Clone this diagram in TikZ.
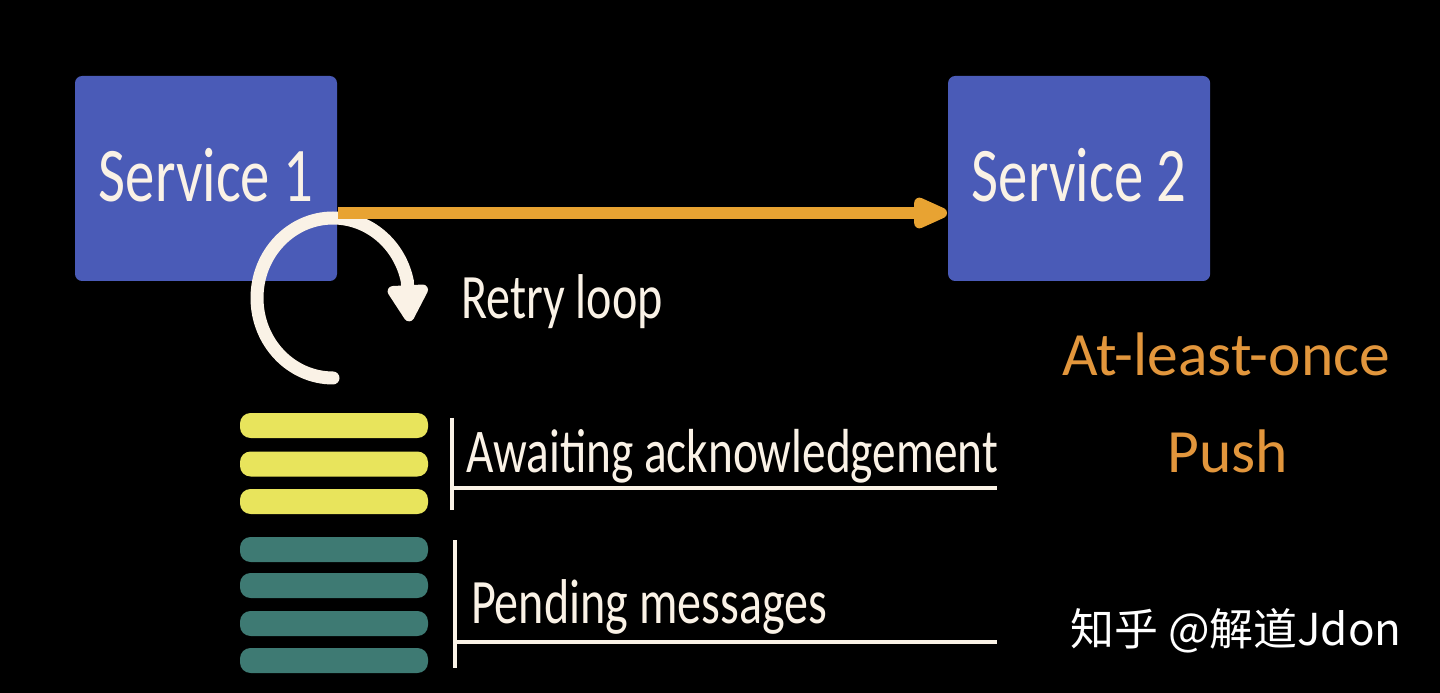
\documentclass[tikz,border=0pt]{standalone}
\usepackage{fontspec}
\usetikzlibrary{arrows.meta,positioning}

\newfontfamily\handfont[FakeStretch=0.76]{Carlito}
\newfontfamily\labelfont{Carlito}
\newfontfamily\cjkfont{Noto Sans CJK SC}

\definecolor{boxblue}{RGB}{74,91,183}
\definecolor{pushorange}{RGB}{232,163,50}
\definecolor{textorange}{RGB}{226,150,60}
\definecolor{cream}{RGB}{250,242,230}
\definecolor{ackyellow}{RGB}{232,228,92}
\definecolor{pendteal}{RGB}{62,122,115}

\begin{document}
\begin{tikzpicture}[semithick]
	\tikzstyle{service}=[fill=boxblue,draw=none,rounded corners=2pt,minimum width=2.62cm,minimum height=2.05cm,text=cream,font=\handfont\fontsize{22}{26}\selectfont]
	\tikzstyle{msg}=[draw=none,rounded corners=3pt,minimum width=1.88cm,minimum height=0.25cm,inner sep=0pt]
	\tikzstyle{hand}=[text=cream,anchor=base west,inner sep=0pt,font=\handfont\fontsize{18}{22}\selectfont]
	\tikzstyle{pushtext}=[text=textorange,anchor=base,inner sep=0pt,font=\labelfont\fontsize{17.5}{21}\selectfont]

	\fill[black] (0,0) rectangle (14.4,-6.93);
	\useasboundingbox (0,0) rectangle (14.4,-6.93);

	\node[service] (S1) at (2.06,-1.785) {\raisebox{0.08cm}{Service 1}};
	\node[service] (S2) [right = 6.09cm of S1] {\raisebox{0.08cm}{Service 2}};

	% retry loop
	\draw[cream,line width=0.13cm,line cap=round,-{Triangle[round,length=0.42cm,width=0.45cm]}]
		(3.33,-3.78) arc[start angle=270,end angle=12,x radius=0.76cm,y radius=0.80cm] -- ++(0.02,-0.40);
	\node[hand] (retry) at (4.60,-3.18) {Retry loop};

	% push
	\draw[pushorange,line width=0.12cm,-{Triangle[round,length=0.42cm,width=0.33cm]}]
		([yshift=-0.345cm]S1.east) -- ([yshift=-0.345cm]S2.west);

	% message queue
	\foreach \y [count=\i] in {4.255,4.64,5.015}
		\node[msg,fill=ackyellow] (ack\i) at (3.34,-\y) {};
	\foreach \y [count=\i] in {5.495,5.855,6.235,6.605}
		\node[msg,fill=pendteal] (pend\i) at (3.34,-\y) {};

	\draw[cream,line width=0.04cm] (4.52,-4.18) -- (4.52,-5.10) (4.52,-4.88) -- (9.97,-4.88);
	\draw[cream,line width=0.04cm] (4.55,-5.40) -- (4.55,-6.68) (4.55,-6.42) -- (9.97,-6.42);
	\node[hand,font=\handfont\fontsize{17.7}{22}\selectfont] (await) at (4.65,-4.72) {Awaiting acknowledgement};
	\node[hand] (pending) at (4.70,-6.23) {Pending messages};

	\node[pushtext] (once) at (12.26,-3.75) {At-least-once};
	\node[pushtext] (push) at (12.28,-4.72) {Push};

	\node[text=white,font=\cjkfont\fontsize{12.5}{15}\selectfont] (mark) at (12.36,-6.31) {知乎 @解道Jdon};
\end{tikzpicture}
\end{document}
